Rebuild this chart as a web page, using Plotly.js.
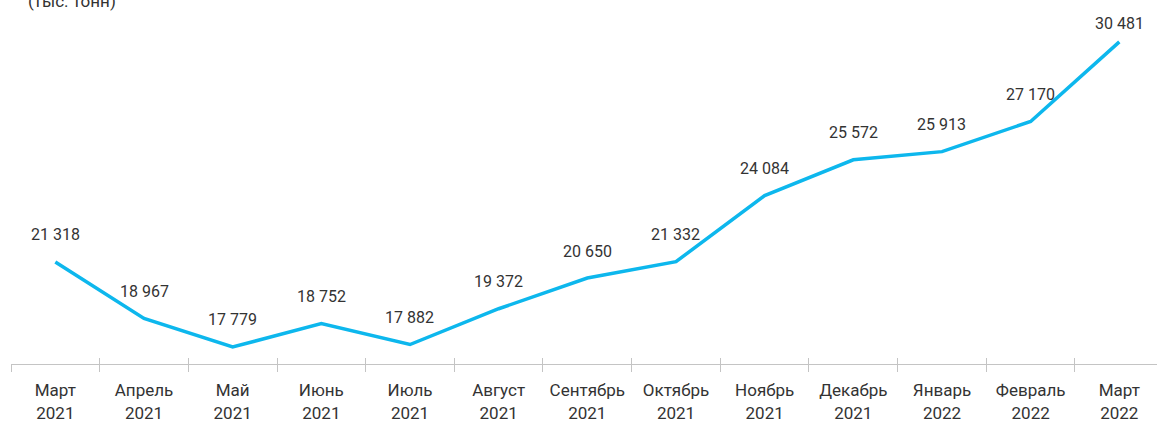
<!DOCTYPE html>
<html>
<head>
<meta charset="utf-8">
<script src="https://cdn.plot.ly/plotly-3.0.1.min.js"></script>
<style>
  html, body { margin: 0; padding: 0; background: #fff; }
  #chart { width: 1157px; height: 421px; }
</style>
</head>
<body>
<div id="chart"></div>
<script>
'use strict';

// months (two-line tick labels)
var months = ['Март<br>2021', 'Апрель<br>2021', 'Май<br>2021', 'Июнь<br>2021', 'Июль<br>2021',
  'Август<br>2021', 'Сентябрь<br>2021', 'Октябрь<br>2021', 'Ноябрь<br>2021', 'Декабрь<br>2021',
  'Январь<br>2022', 'Февраль<br>2022', 'Март<br>2022'];
var values = [21318, 18967, 17779, 18752, 17882, 19372, 20650, 21332, 24084, 25572, 25913, 27170, 30481];

var lineColor = '#0db7ed';
var textColor = '#333333';
var axisColor = '#c4c4c4';
var font = 'Roboto, "Open Sans", sans-serif';

function fmt(v) {
  return String(v).replace(/\B(?=(\d{3})+(?!\d))/g, '\u00a0');
}

var trace = {
  type: 'scatter',
  mode: 'lines',
  x: months,
  y: values,
  line: {color: lineColor, width: 3.5},
  hoverinfo: 'skip'
};

// invisible copy so the second (inside-tick) axis gets drawn
var ghost = {
  type: 'scatter',
  mode: 'none',
  x: months,
  y: values,
  xaxis: 'x2',
  hoverinfo: 'skip',
  showlegend: false
};

var labels = values.map(function (v, i) {
  return {
    x: months[i],
    y: v,
    xref: 'x',
    yref: 'y',
    text: fmt(v),
    showarrow: false,
    yanchor: 'middle',
    yshift: i === values.length - 1 ? 18 : 27,
    font: {family: font, size: 16, color: textColor}
  };
});

// title cut off at the top of the picture
labels.push({
  xref: 'paper', yref: 'paper',
  x: 0.093, y: 1.02,
  xanchor: 'right', yanchor: 'bottom',
  text: '(тыс. тонн)',
  showarrow: false,
  font: {family: font, size: 17, color: textColor}
});

var xbase = {
  type: 'category',
  range: [-0.5, 12.425],
  tickson: 'boundaries',
  showgrid: false,
  zeroline: false,
  showline: true,
  linecolor: axisColor,
  linewidth: 1,
  tickcolor: axisColor,
  tickwidth: 1,
  fixedrange: true
};

var layout = {
  width: 1157,
  height: 421,
  margin: {l: 11, r: 0, t: 20, b: 57},
  paper_bgcolor: '#ffffff',
  plot_bgcolor: '#ffffff',
  showlegend: false,
  font: {family: font, size: 16, color: textColor},
  xaxis: Object.assign({}, xbase, {
    ticks: 'outside',
    ticklen: 7,
    ticklabelstandoff: 11,
    tickfont: {family: font, size: 17, color: textColor}
  }),
  xaxis2: Object.assign({}, xbase, {
    overlaying: 'x',
    anchor: 'y',
    side: 'bottom',
    ticks: 'inside',
    ticklen: 6,
    showticklabels: false
  }),
  yaxis: {
    range: [17071, 31393],
    visible: false,
    showgrid: false,
    zeroline: false,
    fixedrange: true
  },
  annotations: labels
};

Plotly.newPlot('chart', [trace, ghost], layout, {displayModeBar: false, staticPlot: true});
</script>
</body>
</html>
